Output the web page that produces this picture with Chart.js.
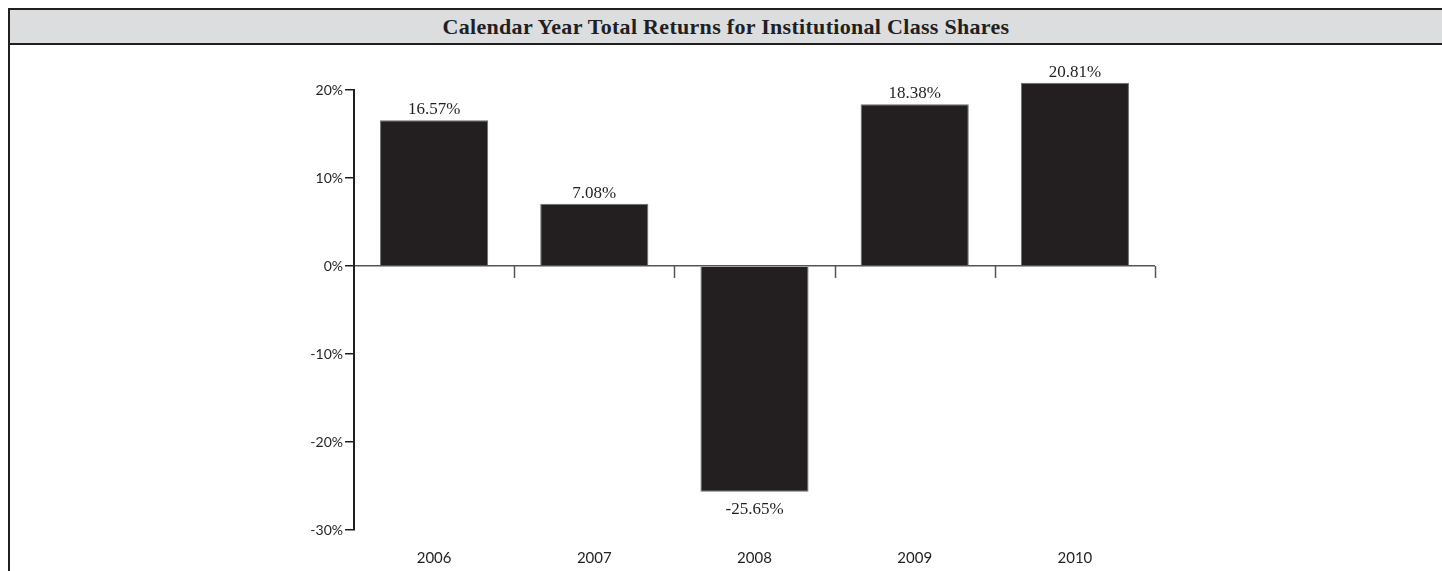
<!DOCTYPE html>
<html>
<head>
<meta charset="utf-8">
<title>Calendar Year Total Returns</title>
<script src="https://cdn.jsdelivr.net/npm/chart.js@4.4.1/dist/chart.umd.min.js"></script>
<style>
    html, body { margin: 0; padding: 0; background: #fff; }
    #wrap { position: relative; width: 1442px; height: 571px; overflow: hidden; }
    #frame {
        position: absolute; left: 8px; top: 8px; right: -4px; bottom: -4px;
        border-left: 2px solid #231f20; border-top: 2px solid #231f20;
    }
    #title {
        position: absolute; left: 10px; top: 10px; right: 0; height: 33px;
        background: #dcdddf; border-bottom: 2px solid #231f20;
        font: bold 22px "Liberation Serif", serif; color: #231f20;
        text-align: center; line-height: 34px; letter-spacing: 0.3px;
    }
    #chart-box { position: absolute; left: 0; top: 0; width: 1442px; height: 571px; }
</style>
</head>
<body>
<div id="wrap">
    <div id="frame"></div>
    <div id="title">Calendar Year Total Returns for Institutional Class Shares</div>
    <div id="chart-box"><canvas id="returns-chart" width="1442" height="571"></canvas></div>
</div>
<script>
// Data
const years = ['2006', '2007', '2008', '2009', '2010'];
const returns = [16.57, 7.08, -25.65, 18.38, 20.81];
const yTicks = [-30, -20, -10, 0, 10, 20];

const INK = '#231f20';
const LABEL_FONT = { family: '"Liberation Serif", serif', size: 17 };
const TICK_FONT = { family: 'Lato, "Liberation Sans", sans-serif', size: 14 };
const YEAR_FONT = { family: 'Lato, "Liberation Sans", sans-serif', size: 15 };

// Short downward ticks between categories, hanging off the zero line
const categoryTicks = {
    id: 'categoryTicks',
    afterDatasetsDraw(chart) {
        const { ctx, scales: { x, y } } = chart;
        const zero = y.getPixelForValue(0);
        const half = (x.getPixelForValue(1) - x.getPixelForValue(0)) / 2;
        ctx.save();
        ctx.strokeStyle = '#555';
        ctx.lineWidth = 1.5;
        for (let i = 0; i < years.length; i++) {
            const px = Math.round(x.getPixelForValue(i) + half) + 0.5;
            ctx.beginPath();
            ctx.moveTo(px, zero);
            ctx.lineTo(px, zero + 12);
            ctx.stroke();
        }
        ctx.restore();
    }
};

// Value labels above (or below) each bar
const valueLabels = {
    id: 'valueLabels',
    afterDatasetsDraw(chart) {
        const { ctx } = chart;
        const meta = chart.getDatasetMeta(0);
        ctx.save();
        ctx.fillStyle = INK;
        ctx.font = `${LABEL_FONT.size}px ${LABEL_FONT.family}`;
        ctx.textAlign = 'center';
        meta.data.forEach((bar, i) => {
            const v = returns[i];
            const text = v.toFixed(2) + '%';
            if (v >= 0) {
                ctx.textBaseline = 'alphabetic';
                ctx.fillText(text, bar.x, bar.y - 6);
            } else {
                ctx.textBaseline = 'top';
                ctx.fillText(text, bar.x, bar.y + 9);
            }
        });
        ctx.restore();
    }
};

const chart = new Chart(document.getElementById('returns-chart'), {
    type: 'bar',
    data: {
        labels: years,
        datasets: [{
            data: returns,
            backgroundColor: INK,
            borderColor: '#6d6d6d',
            borderWidth: 1,
            barPercentage: 0.675,
            categoryPercentage: 1,
            clip: false
        }]
    },
    options: {
        responsive: false,
        animation: false,
        layout: { padding: { left: 0, right: 287, top: 90, bottom: 0 } },
        plugins: {
            legend: { display: false },
            tooltip: { enabled: false }
        },
        scales: {
            x: {
                grid: { display: false },
                border: { display: false },
                ticks: { color: INK, font: YEAR_FONT, padding: 11 },
                afterFit: s => { s.height = 41; }
            },
            y: {
                min: -30,
                max: 20,
                afterBuildTicks: s => { s.ticks = yTicks.map(v => ({ value: v })); },
                afterFit: s => { s.width = 354; },
                border: { display: true, color: INK, width: 2 },
                grid: {
                    drawOnChartArea: true,
                    drawTicks: true,
                    tickLength: 9,
                    tickColor: INK,
                    lineWidth: 1.5,
                    color: c => (c.tick && c.tick.value === 0 ? '#555' : 'transparent')
                },
                ticks: {
                    color: INK,
                    font: TICK_FONT,
                    padding: 2,
                    callback: v => v + '%'
                }
            }
        }
    },
    plugins: [categoryTicks, valueLabels]
});
</script>
</body>
</html>
